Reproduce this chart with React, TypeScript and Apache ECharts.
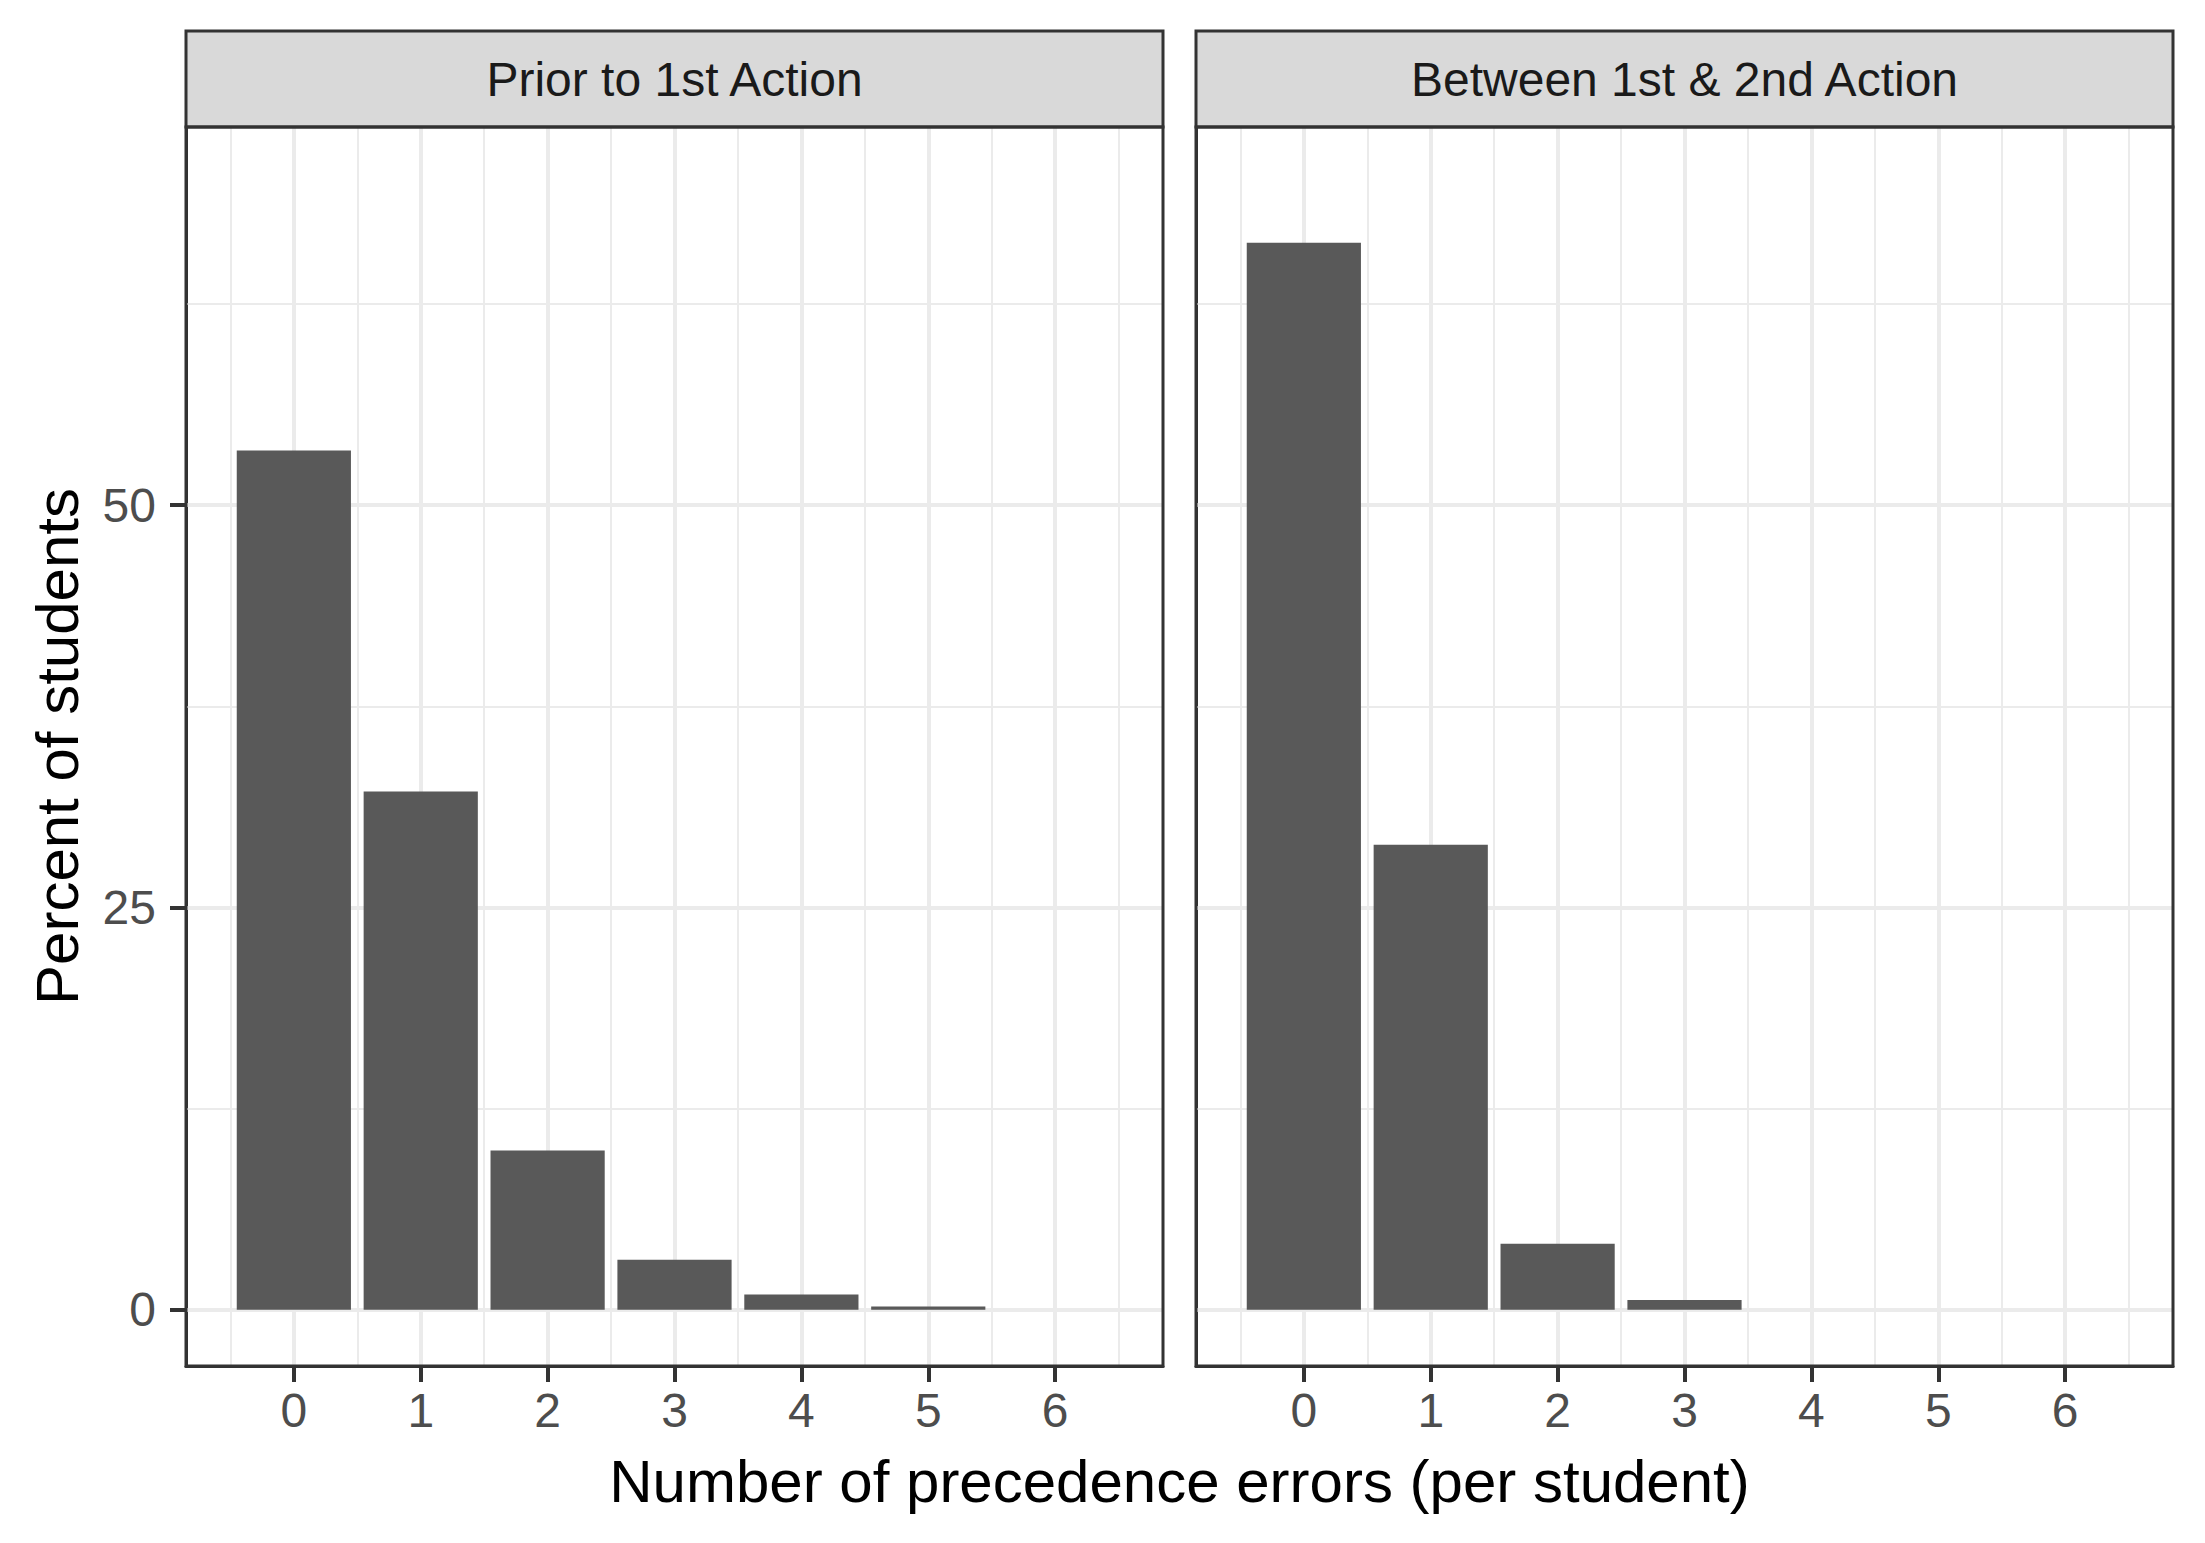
import React, { useEffect, useRef } from "react";
import * as echarts from "echarts";

// ---- data ----
const panelTitles = ["Prior to 1st Action", "Between 1st & 2nd Action"];
const errorCounts = [0, 1, 2, 3, 4, 5, 6];
const priorPercent = [53.4, 32.2, 9.9, 3.1, 0.95, 0.2, 0];
const betweenPercent = [66.3, 28.9, 4.1, 0.6, 0, 0, 0];
const xTickValues = [0, 1, 2, 3, 4, 5, 6];
const xMinorValues = [-0.5, 0.5, 1.5, 2.5, 3.5, 4.5, 5.5, 6.5];
const yTickValues = [0, 25, 50];
const yMinorValues = [12.5, 37.5, 62.5];
const xLimits = [-0.85, 6.85];
const yLimits = [-3.5, 73.5];
const xTitle = "Number of precedence errors (per student)";
const yTitle = "Percent of students";

// ---- layout / style ----
const W = 2205;
const H = 1543;
const FONT = "'Liberation Sans', Arial, Helvetica, sans-serif";
const panelLefts = [186, 1196];
const panelW = 977;
const panelTop = 127;
const panelH = 1239;
const stripTop = 31;
const stripH = 96;
const barColor = "#595959";
const gridColor = "#EBEBEB";
const borderColor = "#333333";

export default function App() {
  const ref = useRef<HTMLDivElement>(null);

  useEffect(() => {
    if (!ref.current) return;
    const chart = echarts.init(ref.current, null, { renderer: "svg" });
    const seriesValues = [priorPercent, betweenPercent];
    const barWidthPx = (0.9 * panelW) / (xLimits[1] - xLimits[0]);

    const grids = panelLefts.map((left) => ({
      left,
      top: panelTop,
      width: panelW,
      height: panelH,
      show: false,
      containLabel: false,
    }));

    const xAxes = panelLefts.map((_, i) => ({
      type: "value",
      gridIndex: i,
      min: xLimits[0],
      max: xLimits[1],
      position: "bottom",
      splitLine: { show: false },
      minorSplitLine: { show: false },
      axisLine: { show: true, onZero: false, lineStyle: { color: borderColor, width: 3 } },
      axisTick: {
        show: true,
        inside: false,
        customValues: xTickValues,
        length: 16,
        lineStyle: { color: borderColor, width: 4 },
      },
      axisLabel: {
        show: true,
        customValues: xTickValues,
        fontSize: 48,
        fontFamily: FONT,
        color: "#4D4D4D",
        margin: 20,
      },
    }));

    const yAxes = panelLefts.map((_, i) => ({
      type: "value",
      gridIndex: i,
      min: yLimits[0],
      max: yLimits[1],
      position: "left",
      splitLine: { show: false },
      minorSplitLine: { show: false },
      axisLine: { show: true, onZero: false, lineStyle: { color: borderColor, width: 3 } },
      axisTick: {
        show: i === 0,
        inside: false,
        customValues: yTickValues,
        length: 16,
        lineStyle: { color: borderColor, width: 4 },
      },
      axisLabel: {
        show: i === 0,
        customValues: yTickValues,
        fontSize: 48,
        fontFamily: FONT,
        color: "#4D4D4D",
        margin: 30,
      },
    }));

    const series: any[] = [];
    panelLefts.forEach((_, i) => {
      const lines: any[] = [];
      xMinorValues.forEach((v) =>
        lines.push({ xAxis: v, lineStyle: { color: gridColor, width: 2, type: "solid" } })
      );
      yMinorValues.forEach((v) =>
        lines.push({ yAxis: v, lineStyle: { color: gridColor, width: 2, type: "solid" } })
      );
      xTickValues.forEach((v) =>
        lines.push({ xAxis: v, lineStyle: { color: gridColor, width: 4, type: "solid" } })
      );
      yTickValues.forEach((v) =>
        lines.push({ yAxis: v, lineStyle: { color: gridColor, width: 4, type: "solid" } })
      );
      series.push({
        type: "line",
        xAxisIndex: i,
        yAxisIndex: i,
        data: [],
        silent: true,
        z: 1,
        markLine: {
          silent: true,
          z: 1,
          symbol: ["none", "none"],
          label: { show: false },
          emphasis: { disabled: true },
          data: lines,
        },
      });
      series.push({
        type: "bar",
        xAxisIndex: i,
        yAxisIndex: i,
        data: errorCounts.map((x, j) => [x, seriesValues[i][j]]),
        barWidth: barWidthPx,
        itemStyle: { color: barColor },
        silent: true,
        z: 10,
      });
    });

    const graphics: any[] = [];
    panelLefts.forEach((left, i) => {
      graphics.push({
        type: "rect",
        z: 50,
        shape: { x: left, y: stripTop, width: panelW, height: stripH },
        style: { fill: "#D9D9D9", stroke: borderColor, lineWidth: 3 },
      });
      graphics.push({
        type: "text",
        z: 60,
        x: left + panelW / 2,
        y: stripTop + stripH / 2,
        style: {
          text: panelTitles[i],
          fontSize: 48,
          fontFamily: FONT,
          fill: "#1A1A1A",
          align: "center",
          verticalAlign: "middle",
        },
      });
      graphics.push({
        type: "rect",
        z: 100,
        shape: { x: left, y: panelTop, width: panelW, height: panelH },
        style: { fill: "none", stroke: borderColor, lineWidth: 3 },
      });
    });
    graphics.push({
      type: "text",
      z: 60,
      x: (panelLefts[0] + panelLefts[1] + panelW) / 2,
      y: 1481,
      style: {
        text: xTitle,
        fontSize: 60,
        fontFamily: FONT,
        fill: "#000000",
        align: "center",
        verticalAlign: "middle",
      },
    });
    graphics.push({
      type: "text",
      z: 60,
      x: 57,
      y: panelTop + panelH / 2,
      rotation: Math.PI / 2,
      style: {
        text: yTitle,
        fontSize: 60,
        fontFamily: FONT,
        fill: "#000000",
        align: "center",
        verticalAlign: "middle",
      },
    });

    chart.setOption({
      animation: false,
      backgroundColor: "#FFFFFF",
      grid: grids,
      xAxis: xAxes,
      yAxis: yAxes,
      series,
      graphic: { elements: graphics },
    });

    return () => chart.dispose();
  }, []);

  return (
    <div
      ref={ref}
      style={{ position: "absolute", left: 0, top: 0, width: W, height: H, background: "#fff" }}
    />
  );
}
